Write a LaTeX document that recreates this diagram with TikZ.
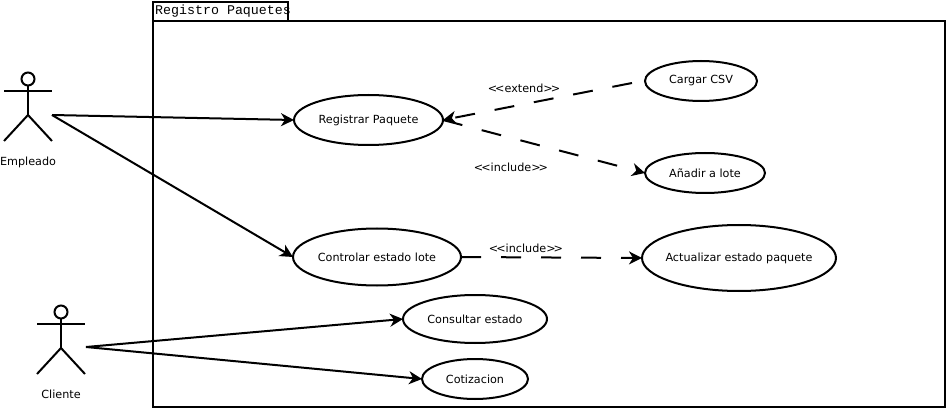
\documentclass[tikz,border=0pt]{standalone}
\usepackage{fontspec}
\setmainfont{DejaVu Sans}
\setmonofont{Liberation Mono}
\usetikzlibrary{arrows.meta,
                shapes.geometric}
\newcommand{\casetext}[1]{\makebox[0pt]{#1}}
\newcommand{\stereotext}[1]{<\kern-2pt<#1>\kern-2pt>}
\tikzset{usecase/.style =
   {ellipse,
    draw,
    line width=2pt,
    text centered,
    inner sep=0pt,
    outer sep=0pt,
    font=\fontsize{11.2}{14}\selectfont}}
\tikzset{caption/.style =
   {inner sep=0pt,
    font=\fontsize{11.2}{14}\selectfont}}
\tikzset{stickman/.style = {draw, line width=2pt}}
\tikzset{frameline/.style = {draw, line width=2pt, outer sep=0pt}}
\tikzset{arrow/.style =
   {draw,
    line width=2pt,
    -{Stealth[length=13pt,width=13pt,inset=4pt]}}}
\tikzset{dasharrow/.style =
   {arrow,
    dash pattern=on 20pt off 20pt}}

\begin{document}
\begin{tikzpicture}[x=1pt, y=-1pt]

    \useasboundingbox (0,0) rectangle (946,409);

    % package frame
    \node [frameline, rectangle, inner sep=0pt, anchor=north west,
           minimum width=792pt, minimum height=386pt] (frame) at (153,21) {};
    \node [frameline, rectangle, inner sep=0pt, anchor=south west,
           minimum width=135pt, minimum height=19pt] (tab) at (153,21) {};
    \node [anchor=west, inner sep=0pt,
           font=\ttfamily\fontsize{13.3}{15}\selectfont] (title) at (155,11) {Registro Paquetes};

    % actors
    \foreach \who/\x/\y/\name in {empleado/28/79/Empleado, cliente/61/312/Cliente} {
        \node [stickman, circle, inner sep=0pt, outer sep=0pt, minimum size=13pt] (\who-head) at (\x,\y) {};
        \coordinate (\who-hip) at (\x,\y+36);
        \draw [stickman] (\who-head.south) -- (\who-hip);
        \draw [stickman] (\x-24,\y+12) -- (\x+24,\y+12);
        \draw [stickman] (\x-24,\y+62) -- (\who-hip) -- (\x+24,\y+62);
        \node [caption, anchor=base] (\who-name) at (\x,\y+86.5) {\name};
    }

    % use cases
    \node [usecase, minimum width=149pt, minimum height=50pt] (registrar) at (368.5,120) {\casetext{Registrar Paquete}};
    \node [usecase, minimum width=112pt, minimum height=40pt] (cargar) at (701,81) {\casetext{Cargar CSV}};
    \node [usecase, minimum width=120pt, minimum height=40pt] (anadir) at (705,173) {\casetext{Añadir a lote}};
    \node [usecase, minimum width=168pt, minimum height=57pt] (controlar) at (377,257) {\casetext{Controlar estado lote}};
    \node [usecase, minimum width=194pt, minimum height=66pt] (actualizar) at (739,258) {\casetext{Actualizar estado paquete}};
    \node [usecase, minimum width=144pt, minimum height=48pt] (consultar) at (475,319) {\casetext{Consultar estado}};
    \node [usecase, minimum width=106pt, minimum height=40pt] (cotizacion) at (475,379) {\casetext{Cotizacion}};

    % connectors
    \coordinate (cargar-out) at (632,83);
    \coordinate (empleado-out) at (52,115);
    \coordinate (cliente-out) at (86,347);
    \draw [arrow] (empleado-out) -- (registrar.west);
    \draw [arrow] (empleado-out) -- (controlar.west);
    \draw [arrow] (cliente-out) -- (consultar.west);
    \draw [arrow] (cliente-out) -- (cotizacion.west);
    \draw [dasharrow] (cargar-out) -- (registrar.east);
    \draw [dasharrow] (registrar.east) -- (anadir.west);
    \draw [dasharrow] (controlar.east) -- (actualizar.west);

    % stereotypes
    \node [caption] (extend) at (524,88) {\stereotext{extend}};
    \node [caption] (include1) at (511,167) {\stereotext{include}};
    \node [caption] (include2) at (526,248) {\stereotext{include}};

\end{tikzpicture}
\end{document}
